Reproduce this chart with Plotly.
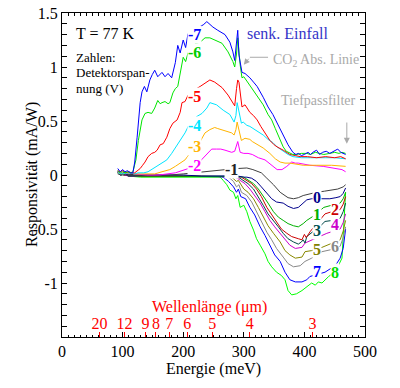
import plotly.graph_objects as go

# ---------------- data ----------------
# positive responses (detector voltages -7 ... -1)
x_m7 = [92, 96, 100, 104, 108, 113, 117, 120, 124, 129, 132, 136, 140, 145, 149, 153, 158, 165, 170, 175, 181, 187, 191, 195, 200, 204, 208, 214, 219, 226, 233, 239, 244, 249, 257, 263, 269, 277, 282, 285, 288, 290, 292, 297, 302, 310, 316, 322, 332, 340, 348, 357, 365, 373, 381, 386, 390, 395, 400, 406, 410, 414, 420, 425, 430, 436, 442, 448, 455, 460, 464, 468]
y_m7 = [0.06, 0.03, 0.05, 0.03, 0.04, 0.02, 0.02, 0.12, 0.35, 0.67, 0.77, 0.82, 0.77, 0.88, 0.93, 0.97, 0.91, 0.95, 0.91, 0.94, 0.90, 1.04, 1.20, 1.13, 1.25, 1.18, 1.31, 1.34, 1.37, 1.37, 1.39, 1.42, 1.39, 1.37, 1.34, 1.32, 1.30, 1.23, 1.14, 1.06, 1.22, 1.34, 1.11, 0.95, 0.94, 0.90, 0.86, 0.82, 0.72, 0.63, 0.56, 0.46, 0.37, 0.28, 0.21, 0.19, 0.20, 0.18, 0.19, 0.21, 0.19, 0.21, 0.23, 0.19, 0.21, 0.22, 0.20, 0.22, 0.24, 0.21, 0.20, 0.19]

x_m6 = [92, 96, 100, 104, 108, 113, 117, 122, 126, 132, 137, 142, 148, 153, 158, 162, 165, 170, 175, 178, 183, 187, 191, 195, 198, 200, 204, 208, 216, 222, 228, 236, 244, 252, 264, 274, 282, 285, 288, 290, 292, 294, 297, 300, 305, 310, 316, 322, 332, 340, 346, 352, 357, 365, 370, 376, 381, 387, 395, 404, 410, 418, 425, 432, 442, 450, 457, 462, 468]
y_m6 = [0.04, 0.02, 0.03, 0.02, 0.03, 0.02, 0.03, 0.14, 0.32, 0.51, 0.57, 0.58, 0.57, 0.62, 0.69, 0.66, 0.67, 0.68, 0.66, 0.67, 0.76, 0.80, 0.82, 0.95, 1.04, 1.09, 1.05, 1.13, 1.20, 1.22, 1.23, 1.27, 1.27, 1.25, 1.22, 1.14, 1.05, 1.00, 1.12, 1.27, 1.10, 1.02, 0.90, 0.91, 0.87, 0.83, 0.79, 0.74, 0.65, 0.56, 0.51, 0.43, 0.37, 0.26, 0.22, 0.20, 0.19, 0.19, 0.20, 0.20, 0.19, 0.21, 0.20, 0.19, 0.20, 0.21, 0.20, 0.21, 0.20]

x_m5 = [92, 96, 100, 105, 110, 115, 120, 125, 129, 133, 137, 142, 148, 153, 157, 162, 167, 173, 178, 183, 190, 195, 198, 203, 208, 216, 222, 228, 236, 244, 252, 264, 274, 282, 285, 288, 290, 292, 295, 297, 302, 310, 316, 322, 328, 335, 343, 350, 355, 365, 370, 376, 385, 393, 405, 420, 435, 450, 460, 468]
y_m5 = [0.04, 0.03, 0.04, 0.02, 0.03, 0.02, 0.02, 0.04, 0.06, 0.09, 0.12, 0.17, 0.20, 0.21, 0.23, 0.28, 0.29, 0.35, 0.43, 0.48, 0.51, 0.58, 0.67, 0.68, 0.74, 0.79, 0.80, 0.82, 0.85, 0.88, 0.86, 0.81, 0.74, 0.67, 0.64, 0.80, 0.88, 0.86, 0.70, 0.63, 0.65, 0.58, 0.55, 0.51, 0.45, 0.39, 0.32, 0.28, 0.26, 0.23, 0.21, 0.19, 0.18, 0.17, 0.17, 0.16, 0.17, 0.16, 0.17, 0.15]

x_m4 = [92, 100, 110, 120, 125, 135, 142, 148, 153, 160, 165, 173, 181, 187, 195, 203, 211, 216, 222, 231, 239, 244, 250, 255, 266, 277, 284, 287, 289, 291, 294, 296, 299, 305, 310, 316, 322, 332, 340, 348, 355, 365, 373, 381, 395, 410, 430, 450, 468]
y_m4 = [0.02, 0.01, 0.02, 0.01, 0.02, 0.02, 0.03, 0.05, 0.07, 0.09, 0.11, 0.14, 0.20, 0.25, 0.32, 0.39, 0.48, 0.51, 0.54, 0.57, 0.62, 0.67, 0.66, 0.65, 0.60, 0.56, 0.49, 0.55, 0.67, 0.62, 0.52, 0.48, 0.49, 0.46, 0.45, 0.43, 0.41, 0.37, 0.33, 0.30, 0.26, 0.22, 0.19, 0.17, 0.16, 0.16, 0.16, 0.16, 0.15]

x_m3 = [92, 100, 110, 120, 130, 140, 153, 165, 178, 187, 195, 203, 211, 219, 228, 236, 244, 252, 257, 269, 280, 284, 287, 289, 291, 294, 296, 302, 310, 314, 324, 332, 343, 352, 360, 368, 376, 390, 398, 420, 445, 468]
y_m3 = [0.02, 0.01, 0.02, 0.01, 0.01, 0.01, 0.01, 0.03, 0.05, 0.08, 0.11, 0.14, 0.20, 0.26, 0.31, 0.39, 0.42, 0.44, 0.43, 0.41, 0.39, 0.37, 0.42, 0.49, 0.44, 0.36, 0.32, 0.34, 0.33, 0.31, 0.28, 0.25, 0.20, 0.15, 0.12, 0.11, 0.11, 0.10, 0.09, 0.09, 0.09, 0.08]

x_m2 = [92, 96, 100, 105, 110, 120, 140, 160, 187, 203, 214, 225, 233, 241, 247, 255, 262, 269, 280, 285, 288, 290, 292, 294, 300, 307, 314, 324, 335, 346, 355, 363, 371, 379, 385, 390, 409, 431, 454, 462, 468]
y_m2 = [0.03, 0.01, 0.02, 0.01, 0.02, 0.01, 0.00, 0.00, 0.02, 0.05, 0.07, 0.11, 0.16, 0.20, 0.24, 0.24, 0.24, 0.23, 0.21, 0.22, 0.28, 0.31, 0.26, 0.21, 0.20, 0.20, 0.19, 0.16, 0.14, 0.09, 0.05, 0.05, 0.08, 0.12, 0.11, 0.11, 0.09, 0.08, 0.06, 0.05, 0.03]

x_m1 = [92, 100, 120, 150, 178, 200, 215, 233, 255, 270, 290, 305, 315, 321, 329, 338, 349, 360, 373, 382, 390, 398, 410, 420, 433, 442, 455, 464, 468]
y_m1 = [0.01, 0.00, 0.00, 0.00, 0.00, 0.01, 0.02, 0.03, 0.04, 0.05, 0.06, 0.065, 0.05, 0.04, 0.02, -0.03, -0.09, -0.16, -0.21, -0.22, -0.21, -0.19, -0.17, -0.16, -0.15, -0.14, -0.13, -0.11, -0.09]

# negative responses (detector voltages 0 ... 8)
x_p0 = [92, 97, 103, 110, 130, 160, 200, 230, 260, 290, 300, 305, 313, 321, 329, 338, 346, 354, 365, 373, 382, 390, 398, 404, 412, 425, 442, 452, 459, 464, 468]
y_p0 = [0.02, 0.00, 0.01, 0.00, 0.00, 0.00, 0.00, -0.01, -0.01, -0.01, -0.02, -0.02, -0.03, -0.06, -0.11, -0.17, -0.22, -0.25, -0.26, -0.29, -0.31, -0.30, -0.26, -0.23, -0.22, -0.22, -0.22, -0.21, -0.20, -0.17, -0.12]

x_p1 = [92, 97, 103, 110, 130, 160, 200, 240, 280, 292, 300, 307, 316, 324, 332, 340, 349, 357, 365, 373, 382, 390, 398, 404, 415, 425, 432, 445, 459, 464, 468]
y_p1 = [0.03, 0.00, 0.02, 0.00, -0.01, -0.01, -0.01, -0.01, -0.01, -0.015, -0.02, -0.05, -0.08, -0.13, -0.19, -0.26, -0.34, -0.39, -0.42, -0.45, -0.47, -0.48, -0.45, -0.42, -0.38, -0.33, -0.30, -0.28, -0.26, -0.22, -0.16]

x_p2 = [92, 97, 103, 110, 130, 160, 200, 240, 280, 290, 296, 305, 313, 321, 329, 338, 346, 354, 362, 371, 379, 390, 396, 400, 403, 410, 420, 434, 445, 459, 464, 468]
y_p2 = [0.02, 0.01, 0.00, 0.01, -0.01, -0.01, -0.01, -0.01, -0.01, -0.015, -0.02, -0.05, -0.08, -0.13, -0.20, -0.30, -0.37, -0.43, -0.50, -0.54, -0.57, -0.59, -0.60, -0.55, -0.58, -0.52, -0.45, -0.36, -0.34, -0.32, -0.27, -0.20]

x_p3 = [92, 97, 103, 110, 130, 160, 200, 240, 280, 291, 300, 307, 316, 324, 332, 340, 349, 357, 365, 373, 382, 390, 395, 398, 401, 404, 415, 425, 434, 447, 459, 464, 468]
y_p3 = [0.02, 0.00, 0.01, -0.01, -0.01, -0.01, -0.01, -0.01, -0.01, -0.02, -0.05, -0.08, -0.13, -0.20, -0.28, -0.36, -0.42, -0.48, -0.54, -0.59, -0.62, -0.64, -0.62, -0.60, -0.63, -0.57, -0.52, -0.48, -0.43, -0.42, -0.40, -0.34, -0.26]

x_p4 = [92, 97, 103, 110, 130, 160, 200, 240, 275, 285, 290, 294, 302, 310, 318, 327, 335, 343, 351, 360, 368, 376, 385, 396, 401, 412, 425, 437, 448, 459, 464, 468]
y_p4 = [0.03, 0.01, 0.00, -0.01, -0.01, -0.01, -0.01, -0.01, -0.015, -0.02, -0.03, -0.05, -0.08, -0.13, -0.19, -0.26, -0.34, -0.42, -0.48, -0.54, -0.60, -0.65, -0.68, -0.67, -0.63, -0.60, -0.57, -0.54, -0.52, -0.50, -0.44, -0.36]

x_p5 = [92, 97, 103, 110, 130, 160, 200, 240, 270, 280, 288, 291, 294, 300, 307, 316, 324, 332, 340, 349, 360, 368, 376, 385, 396, 401, 412, 429, 445, 459, 464, 468]
y_p5 = [0.02, 0.00, 0.01, -0.01, -0.01, -0.01, -0.01, -0.015, -0.015, -0.02, -0.06, -0.05, -0.08, -0.13, -0.16, -0.22, -0.30, -0.39, -0.47, -0.54, -0.62, -0.70, -0.74, -0.77, -0.76, -0.71, -0.70, -0.67, -0.63, -0.60, -0.52, -0.42]

x_p6 = [92, 97, 103, 110, 130, 160, 200, 240, 265, 275, 283, 288, 292, 296, 305, 313, 321, 329, 338, 346, 354, 365, 373, 382, 393, 401, 412, 429, 445, 459, 464, 468]
y_p6 = [0.02, 0.01, 0.00, -0.01, -0.01, -0.01, -0.01, -0.015, -0.015, -0.02, -0.06, -0.11, -0.09, -0.16, -0.19, -0.25, -0.34, -0.43, -0.53, -0.60, -0.68, -0.76, -0.82, -0.85, -0.84, -0.80, -0.77, -0.71, -0.69, -0.66, -0.58, -0.48]

x_p7 = [92, 97, 103, 110, 130, 160, 200, 240, 258, 266, 275, 283, 288, 291, 295, 303, 310, 318, 327, 335, 343, 351, 360, 368, 376, 385, 396, 404, 409, 420, 434, 445, 451, 459, 464, 468]
y_p7 = [0.03, 0.01, 0.02, -0.01, -0.01, -0.01, -0.015, -0.015, -0.015, -0.02, -0.06, -0.11, -0.16, -0.13, -0.20, -0.22, -0.30, -0.37, -0.48, -0.56, -0.65, -0.74, -0.80, -0.90, -0.97, -0.99, -0.99, -0.97, -0.94, -0.92, -0.90, -0.86, -0.84, -0.77, -0.68, -0.50]

x_p8 = [92, 97, 103, 110, 130, 160, 200, 240, 255, 261, 266, 272, 277, 283, 287, 290, 294, 300, 305, 310, 316, 321, 327, 335, 340, 346, 354, 362, 368, 373, 379, 387, 396, 401, 407, 412, 418, 423, 429, 434, 440, 447, 456, 462, 464, 467, 468]
y_p8 = [0.03, 0.00, 0.02, -0.01, -0.02, -0.02, -0.02, -0.02, -0.02, -0.02, -0.05, -0.09, -0.14, -0.16, -0.22, -0.19, -0.30, -0.28, -0.34, -0.43, -0.51, -0.59, -0.65, -0.73, -0.80, -0.85, -0.90, -0.93, -0.97, -1.07, -1.11, -1.10, -1.07, -1.05, -1.02, -1.00, -1.02, -0.99, -1.00, -0.97, -0.94, -0.91, -0.84, -0.77, -0.53, -0.22, -0.16]

# curve labels
pos_names = ["-7", "-6", "-5", "-4", "-3", "-2", "-1"]
pos_label_x = [219, 219, 219, 219, 219, 219, 279]
pos_label_y = [1.30, 1.13, 0.73, 0.46, 0.26, 0.09, 0.05]
neg_names = ["0", "1", "2", "3", "4", "5", "6", "7", "8"]
neg_label_x = [421, 421, 450, 421, 450, 421, 450, 421, 450]
neg_label_y = [-0.21, -0.37, -0.32, -0.51, -0.46, -0.69, -0.66, -0.89, -0.90]

# axes ticks
x_ticks = [0, 100, 200, 300, 400, 500]
y_ticks = [-1.5, -1, -0.5, 0, 0.5, 1, 1.5]
y_ticktext = ["-1.5", "-1", "-0.5", "0", "0.5", "1", "1.5"]
wavelengths_um = [20, 12, 9, 8, 7, 6, 5, 4, 3]

# ---------------- styling ----------------
FONT = "Liberation Serif, Times New Roman, Times, serif"
pos_colors = ["#0000FF", "#00E600", "#FF0000", "#00E5FF", "#FFB400", "#FF00FF", "#404040"]
pos_label_colors = ["#0000FF", "#00CC00", "#FF0000", "#00E5FF", "#FFB400", "#FF00FF", "#222222"]
neg_colors = ["#00008B", "#00B000", "#CC0000", "#004848", "#CC00CC", "#888800", "#888888", "#0000FF", "#00FF00"]
neg_label_colors = ["#00008B", "#00B000", "#CC0000", "#005050", "#CC00CC", "#808000", "#888888", "#0000FF", "#00DD00"]

pos_series = [(x_m7, y_m7), (x_m6, y_m6), (x_m5, y_m5), (x_m4, y_m4), (x_m3, y_m3), (x_m2, y_m2), (x_m1, y_m1)]
neg_series = [(x_p0, y_p0), (x_p1, y_p1), (x_p2, y_p2), (x_p3, y_p3), (x_p4, y_p4), (x_p5, y_p5), (x_p6, y_p6), (x_p7, y_p7), (x_p8, y_p8)]

fig = go.Figure()
for (xs, ys), c in zip(reversed(neg_series), reversed(neg_colors)):
    fig.add_trace(go.Scatter(x=xs, y=ys, mode="lines", line=dict(color=c, width=1), showlegend=False))
for (xs, ys), c in zip(reversed(pos_series), reversed(pos_colors)):
    fig.add_trace(go.Scatter(x=xs, y=ys, mode="lines", line=dict(color=c, width=1), showlegend=False))

# dummy trace for wavelength axis
fig.add_trace(go.Scatter(x=[0, 500], y=[None, None], xaxis="x2", yaxis="y", showlegend=False, hoverinfo="skip"))

ann = []
for n, x, y, c in zip(pos_names, pos_label_x, pos_label_y, pos_label_colors):
    ann.append(dict(x=x, y=y, text="<b>%s</b>" % n, showarrow=False, font=dict(family=FONT, size=16, color=c),
                    bgcolor="white", borderpad=0))
for n, x, y, c in zip(neg_names, neg_label_x, neg_label_y, neg_label_colors):
    ann.append(dict(x=x, y=y, text="<b>%s</b>" % n, showarrow=False, font=dict(family=FONT, size=16, color=c),
                    bgcolor="white", borderpad=0))

ann += [
    dict(x=20, y=1.31, text="T = 77 K", xanchor="left", showarrow=False, font=dict(family=FONT, size=16, color="black")),
    dict(x=20, y=1.09, text="Zahlen:", xanchor="left", showarrow=False, font=dict(family=FONT, size=13, color="black")),
    dict(x=20, y=0.95, text="Detektorspan-", xanchor="left", showarrow=False, font=dict(family=FONT, size=13, color="black")),
    dict(x=20, y=0.80, text="nung (V)", xanchor="left", showarrow=False, font=dict(family=FONT, size=13, color="black")),
    dict(x=302, y=1.31, text="senk. Einfall", xanchor="left", showarrow=False, font=dict(family=FONT, size=16, color="#3434C8")),
    dict(x=345, y=1.06, text="CO<sub>2</sub> Abs. Linie", xanchor="left", showarrow=False, font=dict(family=FONT, size=14, color="#AAAAAA")),
    dict(x=423, y=0.69, text="Tiefpassfilter", showarrow=False, font=dict(family=FONT, size=14, color="#AAAAAA")),
    dict(x=243, y=-1.22, text="Wellenlänge (μm)", showarrow=False, font=dict(family=FONT, size=16, color="#FF0000")),
    # y-axis title
    dict(x=-0.135, y=0.5, xref="paper", yref="paper", text="Responsivität (mA/W)", textangle=-90, showarrow=False,
         font=dict(family=FONT, size=16, color="black")),
    # arrows
    dict(x=300, y=1.02, ax=310, ay=1.09, axref="x", ayref="y", xref="x", yref="y", text="", showarrow=True,
         arrowhead=2, arrowsize=1.2, arrowwidth=1, arrowcolor="#AAAAAA"),
    dict(x=470, y=0.29, ax=470, ay=0.50, axref="x", ayref="y", xref="x", yref="y", text="", showarrow=True,
         arrowhead=2, arrowsize=1.2, arrowwidth=1, arrowcolor="#AAAAAA"),
]

shapes = [dict(type="line", x0=310, x1=340, y0=1.09, y1=1.09, xref="x", yref="y", line=dict(color="#AAAAAA", width=1))]

axis_common = dict(showgrid=False, zeroline=False, showline=True, linecolor="black", linewidth=1, mirror="allticks",
                   ticks="inside", ticklen=5, tickcolor="black", automargin=False, ticklabeloverflow="allow",
                   tickfont=dict(family=FONT, size=16, color="black"))

fig.update_layout(
    width=400, height=388,
    margin=dict(l=62, r=35, t=13, b=51, autoexpand=False),
    paper_bgcolor="white", plot_bgcolor="white",
    font=dict(family=FONT, size=16, color="black"),
    xaxis=dict(range=[0, 500], tickvals=x_ticks, **axis_common,
               minor=dict(dtick=10, ticks="inside", ticklen=2.5, tickcolor="black"),
               title=dict(text="Energie (meV)", font=dict(family=FONT, size=16), standoff=2)),
    yaxis=dict(range=[-1.5, 1.5], tickvals=y_ticks, ticktext=y_ticktext, **axis_common,
               minor=dict(dtick=0.1, ticks="inside", ticklen=2.5, tickcolor="black")),
    xaxis2=dict(range=[0, 500], overlaying="x", anchor="y", side="bottom", automargin=False,
                tickvals=[1239.84 / w for w in wavelengths_um], ticktext=[str(w) for w in wavelengths_um],
                ticks="inside", ticklen=5, tickcolor="#FF0000", ticklabelposition="inside",
                tickfont=dict(family=FONT, size=16, color="#FF0000"),
                showline=False, showgrid=False, zeroline=False),
    annotations=ann,
    shapes=shapes,
)

# remove the default 8 px page margin so the figure sits at the window origin; hide the mode bar
fig.write_html("out.html", config={"displayModeBar": False},
               post_script="document.body.style.margin='0px';")
